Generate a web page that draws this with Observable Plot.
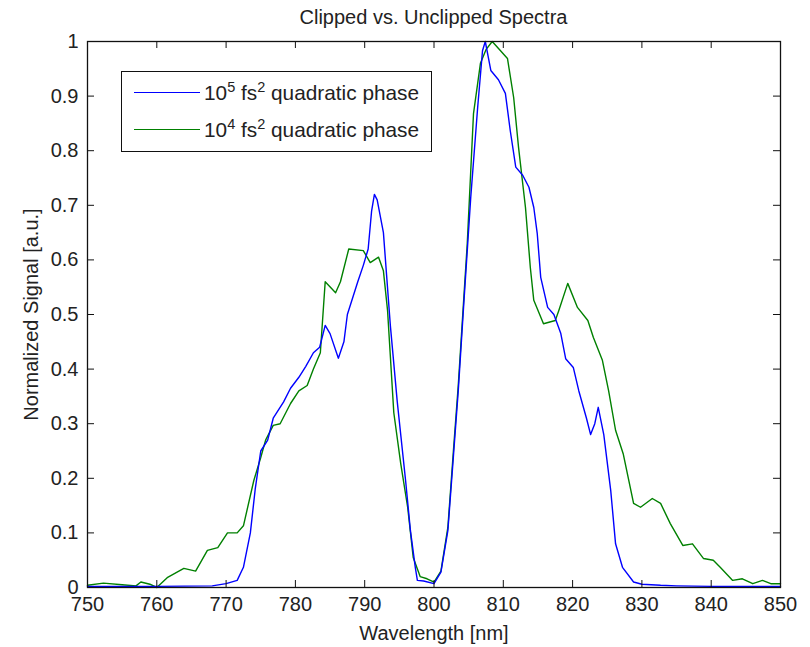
<!DOCTYPE html>
<html>
<head>
<meta charset="utf-8">
<script src="https://cdn.jsdelivr.net/npm/d3@7"></script>
<script src="https://cdn.jsdelivr.net/npm/@observablehq/plot@0.6"></script>
<style>
  html, body { margin: 0; padding: 0; background: #fff; }
  #wrap { position: relative; width: 810px; height: 647px; font-family: "Liberation Sans", Arial, sans-serif; color: #222; }
  #title { position: absolute; left: 87px; width: 693px; top: 5px; text-align: center; font-size: 20px; line-height: 24px; }
  #legend { position: absolute; left: 121px; top: 71px; width: 309px; height: 79px; border: 1.3px solid #111; background: #fff; }
  .lline { position: absolute; left: 12px; width: 66px; height: 0; border-top: 1.4px solid; }
  .ltext { position: absolute; left: 82px; font-size: 20.8px; line-height: 24px; white-space: nowrap; }
  .ltext sup { font-size: 14.5px; line-height: 0; vertical-align: 8px; }
</style>
</head>
<body>
<div id="wrap">
  <div id="chart"></div>
</div>
<script>
// ---- data ----
const titleText = "Clipped vs. Unclipped Spectra";
const xLabel = "Wavelength [nm]";
const yLabel = "Normalized Signal [a.u.]";
const seriesNames = ["10<sup>5</sup> fs<sup>2</sup> quadratic phase", "10<sup>4</sup> fs<sup>2</sup> quadratic phase"];
const seriesColors = ["#0000ff", "#008000"];

const xTicks = [750, 760, 770, 780, 790, 800, 810, 820, 830, 840, 850];
const yTicks = [0, 0.1, 0.2, 0.3, 0.4, 0.5, 0.6, 0.7, 0.8, 0.9, 1];

// 10^5 fs^2 quadratic phase (blue)
const wlBlue = [750,760,768,770,771.6,772.5,773.5,774.2,775,776,776.8,778.3,779.3,780.5,781.5,782.6,783.5,784.3,785,786.2,787,787.5,789,789.8,790.5,791,791.4,791.8,792.7,793.7,794.7,795.9,796.6,797.3,797.6,798.5,800,801,802,802.8,803.5,804.3,804.8,805.3,806.3,807,807.4,808.2,809.3,810.3,811,811.8,812.8,813.7,814.4,814.9,815.4,816.4,817.3,818.3,819,820.1,820.9,822,822.6,823.2,823.7,824.5,825.5,826.2,827.2,828.8,830,832.7,835,840,850];
const sigBlue = [0.002,0.002,0.003,0.007,0.013,0.037,0.1,0.18,0.25,0.27,0.31,0.34,0.365,0.385,0.405,0.43,0.44,0.48,0.465,0.42,0.45,0.50,0.56,0.59,0.62,0.69,0.72,0.71,0.65,0.48,0.34,0.196,0.104,0.037,0.013,0.012,0.007,0.028,0.104,0.24,0.36,0.52,0.617,0.714,0.879,0.983,1.0,0.947,0.93,0.905,0.837,0.77,0.755,0.733,0.696,0.648,0.568,0.513,0.50,0.465,0.419,0.403,0.36,0.31,0.28,0.30,0.33,0.28,0.178,0.08,0.037,0.01,0.006,0.004,0.003,0.002,0.002];

// 10^4 fs^2 quadratic phase (green)
const wlGreen = [750,752.3,755,757,757.7,759,760,761.5,763.9,765.6,767.3,768.8,770.2,771.6,772.5,774,775,775.7,776.8,777.8,779.3,780.5,781.7,782.6,783.6,784.3,785.8,786.5,787.7,789.8,790.8,792,792.7,793.3,794.2,795.2,796.2,797,798,799,800,801,802,802.8,803.5,804.3,804.8,805.7,806.7,807.5,808.4,809.6,810.6,811.5,812.2,813.2,813.9,814.4,815.8,817.5,818,819.3,820.7,822.2,823,824.3,825.2,826.2,827.3,828.8,829.8,831.5,832.7,834.1,835.9,837.3,838.9,840.3,841.3,843.1,844.5,846,847.4,848.6,850];
const sigGreen = [0.004,0.008,0.005,0.003,0.01,0.006,0.0,0.018,0.035,0.03,0.068,0.073,0.10,0.10,0.113,0.196,0.238,0.27,0.297,0.30,0.337,0.36,0.37,0.40,0.43,0.56,0.54,0.56,0.62,0.617,0.595,0.605,0.58,0.507,0.32,0.227,0.147,0.055,0.02,0.016,0.01,0.03,0.11,0.25,0.37,0.53,0.63,0.868,0.96,0.985,1.0,0.983,0.969,0.897,0.806,0.696,0.586,0.526,0.483,0.489,0.507,0.557,0.513,0.489,0.458,0.416,0.36,0.288,0.245,0.154,0.147,0.163,0.154,0.117,0.077,0.08,0.053,0.05,0.037,0.013,0.016,0.007,0.013,0.007,0.007];

// ---- build ----
const blue = wlBlue.map((w, i) => ({w, s: sigBlue[i]}));
const green = wlGreen.map((w, i) => ({w, s: sigGreen[i]}));

const xMin = xTicks[0], xMax = xTicks[xTicks.length - 1];
const yMin = yTicks[0], yMax = yTicks[yTicks.length - 1];
const tickLenY = (yMax - yMin) * 7 / 546;   // inward tick length in y units
const tickLenX = (xMax - xMin) * 7 / 693;   // inward tick length in x units

const chart = Plot.plot({
  width: 810,
  height: 647,
  marginLeft: 87,
  marginRight: 30,
  marginTop: 41,
  marginBottom: 60,
  style: {fontFamily: "'Liberation Sans', Arial, sans-serif", fontSize: "20px", color: "#222", background: "#fff", overflow: "visible"},
  x: {domain: [xMin, xMax]},
  y: {domain: [yMin, yMax]},
  marks: [
    Plot.line(green, {x: "w", y: "s", stroke: seriesColors[1], strokeWidth: 1.4}),
    Plot.line(blue, {x: "w", y: "s", stroke: seriesColors[0], strokeWidth: 1.4}),
    Plot.ruleX(xTicks, {x: d => d, y1: yMin, y2: yMin + tickLenY, stroke: "#111"}),
    Plot.ruleX(xTicks, {x: d => d, y1: yMax - tickLenY, y2: yMax, stroke: "#111"}),
    Plot.ruleY(yTicks, {y: d => d, x1: xMin, x2: xMin + tickLenX, stroke: "#111"}),
    Plot.ruleY(yTicks, {y: d => d, x1: xMax - tickLenX, x2: xMax, stroke: "#111"}),
    Plot.frame({stroke: "#111", strokeWidth: 1.3}),
    Plot.axisX(xTicks, {tickSize: 0, tickPadding: 9, tickFormat: d => String(d), label: xLabel, labelAnchor: "center", labelArrow: "none", labelOffset: 52}),
    Plot.axisY(yTicks, {tickSize: 0, tickPadding: 9, tickFormat: d => String(d), label: yLabel, labelAnchor: "center", labelArrow: "none", labelOffset: 64})
  ]
});
document.getElementById("chart").appendChild(chart);

const wrap = document.getElementById("wrap");
const t = document.createElement("div");
t.id = "title";
t.textContent = titleText;
wrap.appendChild(t);

const lg = document.createElement("div");
lg.id = "legend";
const rowCenters = [21, 58];
seriesNames.forEach((name, i) => {
  const ln = document.createElement("div");
  ln.className = "lline";
  ln.style.top = (rowCenters[i] - 0.7) + "px";
  ln.style.borderTopColor = seriesColors[i];
  lg.appendChild(ln);
  const tx = document.createElement("div");
  tx.className = "ltext";
  tx.style.top = (rowCenters[i] - 12) + "px";
  tx.innerHTML = name;
  lg.appendChild(tx);
});
wrap.appendChild(lg);
</script>
</body>
</html>
